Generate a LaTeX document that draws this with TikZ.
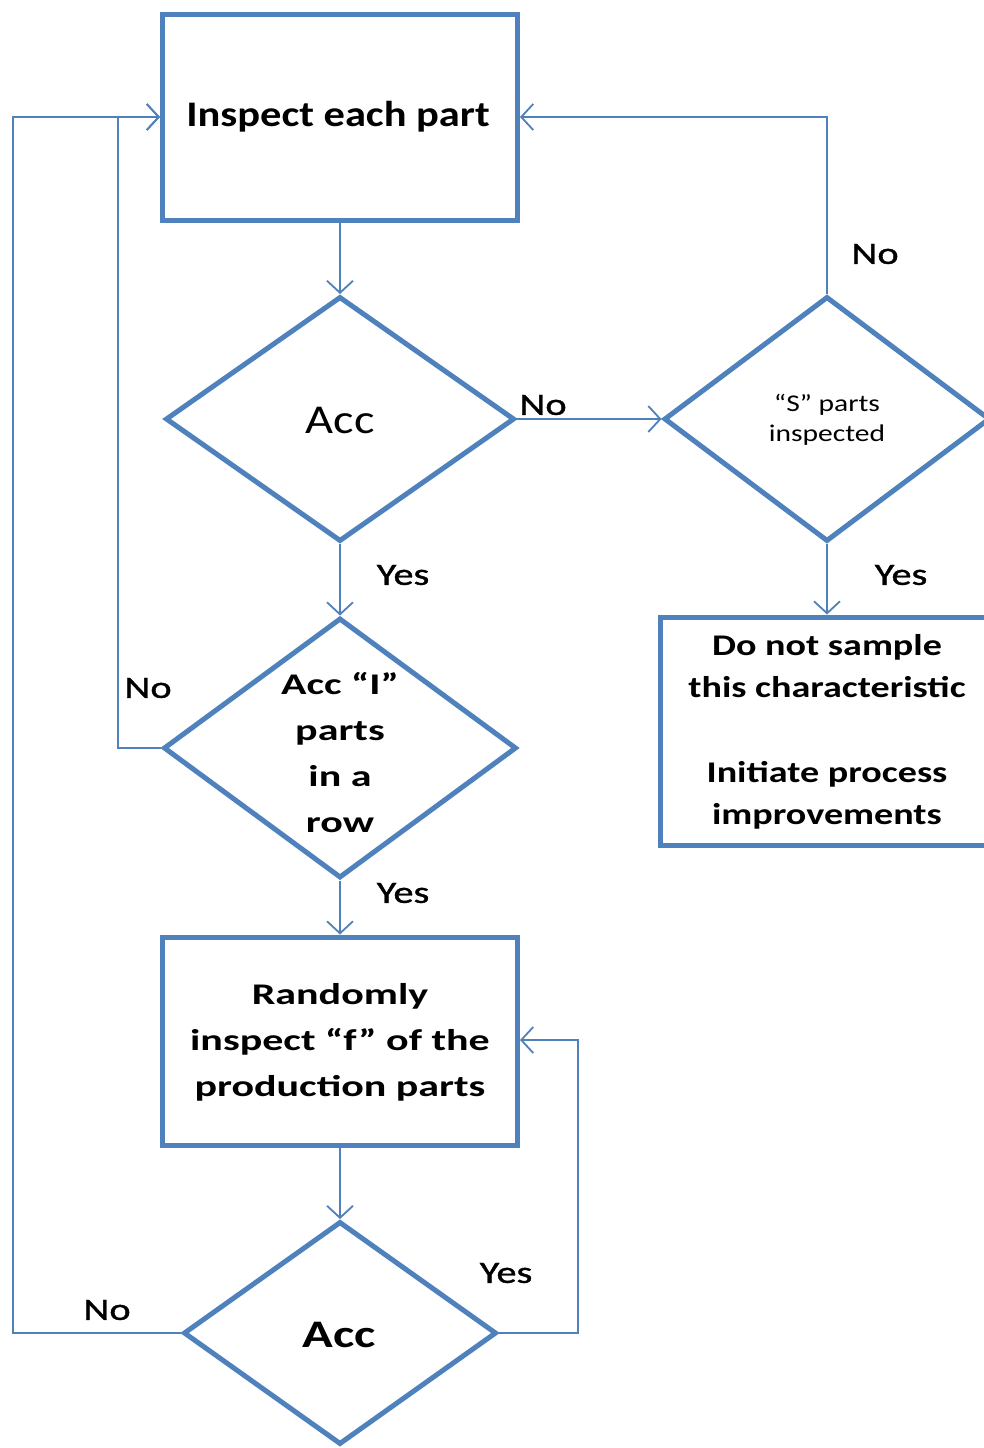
\documentclass[tikz,border=0pt]{standalone}
\usepackage{fontspec}
\setmainfont{Carlito}
\newfontfamily\fa[FakeStretch=1.18]{Carlito}
\newfontfamily\fb[FakeStretch=1.4]{Carlito}
\newfontfamily\fc[FakeStretch=1.27]{Carlito}
\newfontfamily\fd[FakeStretch=1.3]{Carlito}
\newfontfamily\fe[FakeStretch=1.23]{Carlito}
\newfontfamily\fl[FakeStretch=1.3,FakeBold=1.2]{Carlito}
\usetikzlibrary{shapes.geometric,arrows.meta}
\definecolor{obl}{HTML}{4F81BD}
\tikzset{
  boxn/.style={draw=obl,line width=5pt,rectangle,inner sep=0pt},
  dia/.style={draw=obl,line width=5pt,diamond,inner sep=0pt},
  txt/.style={align=center,inner sep=0pt,text=black},
  conn/.style={draw=obl,line width=1.8pt},
  arr/.style={conn,-{Straight Barb[length=12pt,width=26pt,line width=1.8pt]}},
  lab/.style={inner sep=0pt,text=black,font=\fl\fontsize{31}{34}\selectfont}
}
\begin{document}
\begin{tikzpicture}[x=1pt,y=-1pt]
\useasboundingbox (0,0) rectangle (984,1448);
\fill[white] (0,0) rectangle (984,1448);
% shapes
\node[boxn,minimum width=355pt,minimum height=206pt] (b1) at (340,117) {};
\node[dia,minimum width=349pt,minimum height=245pt] (d1) at (340,419) {};
\node[dia,minimum width=326pt,minimum height=245pt] (d2) at (827,419) {};
\node[dia,minimum width=353pt,minimum height=260pt] (d3) at (340,748) {};
\node[boxn,minimum width=340pt,minimum height=228pt] (b3) at (830,731) {};
\node[boxn,minimum width=355pt,minimum height=208pt] (b4) at (340,1041) {};
\node[dia,minimum width=313pt,minimum height=223pt] (d4) at (340,1333) {};
% texts
\node[txt,font=\fa\bfseries\fontsize{36}{40}\selectfont] (t1) at (338,117) {Inspect each part};
\node[txt,font=\fa\fontsize{41}{44}\selectfont] (t2) at (340,420) {Acc};
\node[txt,font=\fe\fontsize{24}{30}\selectfont] (t3) at (827,420) {“S” parts\\inspected};
\node[txt,font=\fb\bfseries\fontsize{30}{46}\selectfont] (t4) at (340,753) {Acc “I”\\parts\\in a\\row};
\node[txt,font=\fc\bfseries\fontsize{30}{42}\selectfont] (t5) at (827,732) {Do not sample\\this characteristic\\[43pt]Initiate process\\improvements};
\node[txt,font=\fb\bfseries\fontsize{30}{46}\selectfont] (t6) at (340,1042) {Randomly\\inspect “f” of the\\production parts};
\node[txt,font=\fd\bfseries\fontsize{39}{42}\selectfont] (t7) at (339,1335) {Acc};
% corner coordinates
\coordinate (c1) at (827,117);
\coordinate (c2) at (118,748);
\coordinate (c3) at (118,117);
\coordinate (c4) at (578,1333);
\coordinate (c5) at (578,1040);
\coordinate (c6) at (13,1333);
\coordinate (c7) at (13,117);
% connectors
\draw[arr] (b1.south) -- (d1.north);
\draw[arr] (d1.east) -- (d2.west);
\draw[arr] (d2.north) -- (c1) -- (b1.east);
\draw[arr] (d2.south) -- (b3.north -| d2.south);
\draw[arr] (d1.south) -- (d3.north);
\draw[arr] (d3.west) -- (c2) -- (c3) -- (b1.west);
\draw[arr] (d3.south) -- (b4.north);
\draw[arr] (b4.south) -- (d4.north);
\draw[arr] (d4.east) -- (c4) -- (c5) -- (b4.east |- c5);
\draw[arr] (d4.west) -- (c6) -- (c7) -- (b1.west);
% labels
\node[lab] (l1) at (543,405) {No};
\node[lab] (l2) at (875,254) {No};
\node[lab] (l3) at (901,575) {Yes};
\node[lab] (l4) at (403,575) {Yes};
\node[lab] (l5) at (148,688) {No};
\node[lab] (l6) at (403,893) {Yes};
\node[lab] (l7) at (506,1273) {Yes};
\node[lab] (l8) at (107,1310) {No};
\end{tikzpicture}
\end{document}
